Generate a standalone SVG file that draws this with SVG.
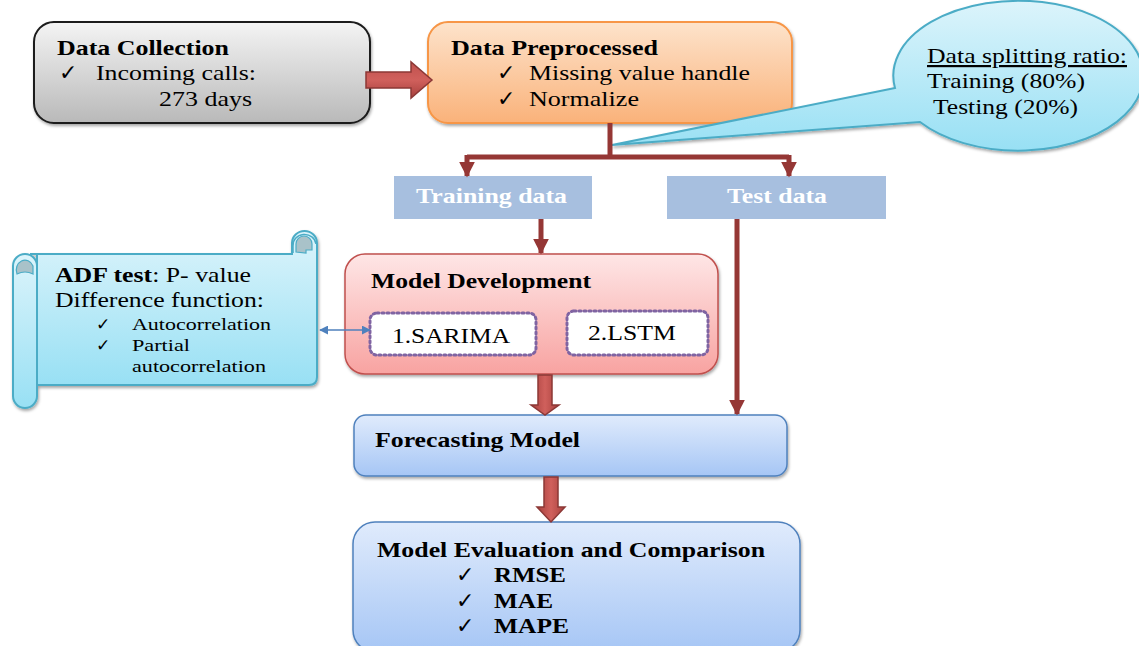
<svg xmlns="http://www.w3.org/2000/svg" width="1139" height="646" viewBox="0 0 1139 646">
  <defs>
    <linearGradient id="gGray" x1="0" y1="0" x2="0" y2="1">
      <stop offset="0" stop-color="#f4f4f4"/>
      <stop offset="1" stop-color="#b9b9b9"/>
    </linearGradient>
    <linearGradient id="gOrange" x1="0" y1="0" x2="0" y2="1">
      <stop offset="0" stop-color="#fde3cb"/>
      <stop offset="1" stop-color="#fab27a"/>
    </linearGradient>
    <linearGradient id="gCyan" x1="0" y1="0" x2="0" y2="1">
      <stop offset="0" stop-color="#dcf4fb"/>
      <stop offset="1" stop-color="#98e0f4"/>
    </linearGradient>
    <linearGradient id="gPink" x1="0" y1="0" x2="0" y2="1">
      <stop offset="0" stop-color="#fee6e6"/>
      <stop offset="1" stop-color="#f8a3a1"/>
    </linearGradient>
    <linearGradient id="gBlue" x1="0" y1="0" x2="0" y2="1">
      <stop offset="0" stop-color="#e0ebfc"/>
      <stop offset="1" stop-color="#a6c6f5"/>
    </linearGradient>
    <linearGradient id="gArrowH" x1="0" y1="0" x2="0" y2="1">
      <stop offset="0" stop-color="#c0504d"/>
      <stop offset="0.5" stop-color="#d0605c"/>
      <stop offset="1" stop-color="#a7403d"/>
    </linearGradient>
    <linearGradient id="gArrowV" x1="0" y1="0" x2="1" y2="0">
      <stop offset="0" stop-color="#a7403d"/>
      <stop offset="0.5" stop-color="#d0605c"/>
      <stop offset="1" stop-color="#a7403d"/>
    </linearGradient>
    <filter id="shadow" x="-10%" y="-10%" width="120%" height="130%">
      <feDropShadow dx="1" dy="2" stdDeviation="1.5" flood-color="#000" flood-opacity="0.35"/>
    </filter>
    <marker id="headRed" viewBox="0 0 10 10" refX="9" refY="5" markerWidth="3.2" markerHeight="3.2" orient="auto">
      <path d="M0,0 L10,5 L0,10 Z" fill="#953735"/>
    </marker>
    <marker id="headBlue" viewBox="0 0 10 10" refX="9" refY="5" markerWidth="6" markerHeight="6" orient="auto-start-reverse">
      <path d="M0,0 L10,5 L0,10 Z" fill="#4f81bd"/>
    </marker>
  </defs>
  <style>
    text { font-family: "Liberation Serif", "Times New Roman", serif; fill: #000; }
    .h { font-weight: bold; font-size: 21px; }
    .t { font-size: 22px; }
    .s { font-size: 17px; }
    .w { font-weight: bold; font-size: 21px; fill: #ffffff; }
    .line { stroke: #953735; stroke-width: 5; fill: none; }
    .block { fill: url(#gArrowH); stroke: #8c3836; stroke-width: 1.5; }
    .blockv { fill: url(#gArrowV); stroke: #8c3836; stroke-width: 1.5; }
    .tag { fill: #a7bfdf; }
    .dot { fill: #ffffff; stroke: #8064a2; stroke-width: 3; stroke-dasharray: 2 3; stroke-linecap: round; }
  </style>

  <!-- data collection -->
  <g id="data-collection">
    <rect x="34" y="22" width="336" height="101" rx="20" fill="url(#gGray)" stroke="#1a1a1a" stroke-width="2" filter="url(#shadow)"/>
    <text class="h" x="57" y="55" textLength="172" lengthAdjust="spacingAndGlyphs">Data Collection</text>
    <text class="t" x="59" y="80">✓</text>
    <text class="t" x="96" y="80" textLength="160" lengthAdjust="spacingAndGlyphs">Incoming calls:</text>
    <text class="t" x="159" y="106" textLength="93" lengthAdjust="spacingAndGlyphs">273 days</text>
  </g>

  <!-- data preprocessed -->
  <g id="data-preprocessed">
    <rect x="428" y="22" width="364" height="101" rx="20" fill="url(#gOrange)" stroke="#f79646" stroke-width="2" filter="url(#shadow)"/>
    <text class="h" x="451" y="55" textLength="207" lengthAdjust="spacingAndGlyphs">Data Preprocessed</text>
    <text class="t" x="497" y="80">✓</text>
    <text class="t" x="529" y="80" textLength="221" lengthAdjust="spacingAndGlyphs">Missing value handle</text>
    <text class="t" x="497" y="106">✓</text>
    <text class="t" x="529" y="106" textLength="110" lengthAdjust="spacingAndGlyphs">Normalize</text>
  </g>

  <!-- splitting ratio callout -->
  <g id="split-callout">
    <path d="M895,88 L612,145 L920,122 A125,75 0 1 0 895,88 Z" fill="url(#gCyan)" stroke="#4bacc6" stroke-width="2" filter="url(#shadow)"/>
    <text class="t" x="927" y="63" text-decoration="underline" textLength="200" lengthAdjust="spacingAndGlyphs">Data splitting ratio:</text>
    <text class="t" x="927" y="88" textLength="158" lengthAdjust="spacingAndGlyphs">Training (80%)</text>
    <text class="t" x="933" y="114" textLength="145" lengthAdjust="spacingAndGlyphs">Testing (20%)</text>
  </g>

  <!-- training data -->
  <g id="training-data">
    <rect class="tag" x="394" y="176" width="198" height="43"/>
    <text class="w" x="416" y="203" textLength="151" lengthAdjust="spacingAndGlyphs">Training data</text>
  </g>

  <!-- test data -->
  <g id="test-data">
    <rect class="tag" x="667" y="176" width="219" height="43"/>
    <text class="w" x="727" y="203" textLength="100" lengthAdjust="spacingAndGlyphs">Test data</text>
  </g>

  <!-- ADF scroll -->
  <g id="adf-scroll">
    <g filter="url(#shadow)" fill="url(#gCyan)" stroke="#4bacc6" stroke-width="2">
      <path d="M30,254 H292 V243 A12.5,12 0 0 1 317,243 V377 Q317,385 309,385 H37 V254 Z"/>
      <path d="M13,266 A12,12 0 0 1 37,266 V396 A12,12 0 0 1 13,396 Z"/>
    </g>
    <path d="M293,253 V246 A11,10 0 0 1 316,244" fill="none" stroke="#4bacc6" stroke-width="1.5"/>
    <path d="M296,252 V244 A8,8 0 0 1 312,244 V250 H306 V253 Z" fill="#a9c2c9" stroke="#4bacc6" stroke-width="1.2"/>
    <path d="M17,274 A8,9 0 0 1 33,266 V274 Q25,270 17,274 Z" fill="#a9c2c9" stroke="#4bacc6" stroke-width="1.2"/>
    <text class="t" x="55" y="282" textLength="196" lengthAdjust="spacingAndGlyphs"><tspan font-weight="bold">ADF test</tspan>: P- value</text>
    <text class="t" x="55" y="307" textLength="209" lengthAdjust="spacingAndGlyphs">Difference function:</text>
    <text class="s" x="96" y="330">✓</text>
    <text class="s" x="132" y="330" textLength="139" lengthAdjust="spacingAndGlyphs">Autocorrelation</text>
    <text class="s" x="96" y="351">✓</text>
    <text class="s" x="132" y="351" textLength="58" lengthAdjust="spacingAndGlyphs">Partial</text>
    <text class="s" x="132" y="372" textLength="134" lengthAdjust="spacingAndGlyphs">autocorrelation</text>
  </g>

  <!-- model development -->
  <g id="model-development">
    <rect x="345" y="254" width="373" height="120" rx="20" fill="url(#gPink)" stroke="#c0504d" stroke-width="1.5" filter="url(#shadow)"/>
    <text class="h" x="371" y="288" textLength="220" lengthAdjust="spacingAndGlyphs">Model Development</text>
  </g>

  <g id="sarima">
    <rect class="dot" x="370" y="313" width="166" height="42" rx="7"/>
    <text class="t" x="392" y="343" textLength="118" lengthAdjust="spacingAndGlyphs">1.SARIMA</text>
  </g>

  <g id="lstm">
    <rect class="dot" x="567" y="311" width="141" height="44" rx="7"/>
    <text class="t" x="588" y="340" textLength="88" lengthAdjust="spacingAndGlyphs">2.LSTM</text>
  </g>

  <!-- forecasting model -->
  <g id="forecasting-model">
    <rect x="354" y="415" width="433" height="61" rx="12" fill="url(#gBlue)" stroke="#4f81bd" stroke-width="1.5" filter="url(#shadow)"/>
    <text class="h" x="375" y="447" textLength="205" lengthAdjust="spacingAndGlyphs">Forecasting Model</text>
  </g>

  <!-- evaluation -->
  <g id="model-evaluation">
    <rect x="353" y="522" width="447" height="130" rx="22" fill="url(#gBlue)" stroke="#4f81bd" stroke-width="1.5" filter="url(#shadow)"/>
    <text class="h" x="377" y="557" textLength="388" lengthAdjust="spacingAndGlyphs">Model Evaluation and Comparison</text>
    <text class="t" x="456" y="582">✓</text>
    <text class="h" x="494" y="582" textLength="72" lengthAdjust="spacingAndGlyphs">RMSE</text>
    <text class="t" x="456" y="608">✓</text>
    <text class="h" x="494" y="608" textLength="59" lengthAdjust="spacingAndGlyphs">MAE</text>
    <text class="t" x="456" y="633">✓</text>
    <text class="h" x="494" y="633" textLength="75" lengthAdjust="spacingAndGlyphs">MAPE</text>
  </g>

  <!-- connectors -->
  <g id="connectors">
    <polygon class="block" points="366,72 411,72 411,62 432,80 411,98 411,88 366,88"/>
    <polyline class="line" points="610,123 610,157"/>
    <polyline class="line" points="467,157 789,157"/>
    <line class="line" x1="467" y1="155" x2="467" y2="176" marker-end="url(#headRed)"/>
    <line class="line" x1="789" y1="155" x2="789" y2="176" marker-end="url(#headRed)"/>
    <line class="line" x1="541" y1="219" x2="541" y2="253" marker-end="url(#headRed)"/>
    <line class="line" x1="737" y1="219" x2="737" y2="414" marker-end="url(#headRed)"/>
    <polygon class="blockv" points="538,375 552,375 552,405 559,405 545,415 531,405 538,405"/>
    <polygon class="blockv" points="544,477 558,477 558,507 565,507 551,522 537,507 544,507"/>
    <line x1="320" y1="330" x2="370" y2="330" stroke="#4f81bd" stroke-width="1.5" marker-start="url(#headBlue)" marker-end="url(#headBlue)"/>
  </g>
</svg>
